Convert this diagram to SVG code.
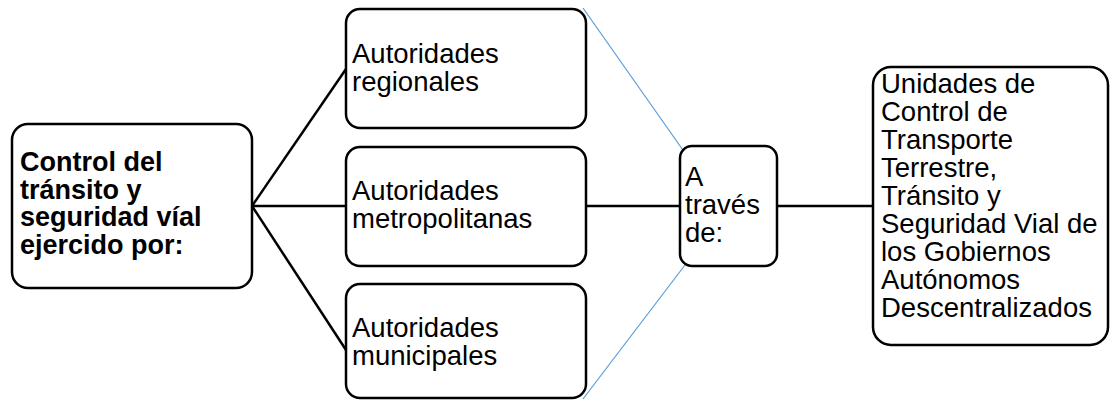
<svg xmlns="http://www.w3.org/2000/svg" width="1112" height="400" viewBox="0 0 1112 400">
<style>
.box{fill:#fff;stroke:#000;stroke-width:2.5}
.t{font-family:"Liberation Sans",Arial,sans-serif;font-size:27.5px;fill:#000}
.b{font-weight:bold;font-size:27px}
.c{stroke:#000;stroke-width:2.5;fill:none}
.bl{stroke:#5B9BD5;stroke-width:1.2;fill:none}
</style>
<rect width="1112" height="400" fill="#fff"/>
<g id="connectors">
<line class="c" x1="252" y1="206" x2="346" y2="69"/>
<line class="c" x1="252" y1="206" x2="346" y2="206"/>
<line class="c" x1="252" y1="206" x2="346" y2="350"/>
<line class="c" x1="586" y1="206" x2="680" y2="206"/>
<line class="c" x1="777" y1="206" x2="873" y2="206"/>
<line class="bl" x1="583" y1="8" x2="685" y2="153"/>
<line class="bl" x1="685" y1="265" x2="583" y2="399"/>
</g>
<g id="n-control">
<rect class="box" x="12" y="124" width="240" height="164" rx="16"/>
<text class="t b" x="20"><tspan x="20" y="171">Control del</tspan><tspan x="20" y="198.5">tránsito y</tspan><tspan x="20" y="226">seguridad víal</tspan><tspan x="20" y="253.5">ejercido por:</tspan></text>
</g>
<g id="n-regionales">
<rect class="box" x="346" y="9" width="240" height="119" rx="14"/>
<text class="t"><tspan x="352" y="63">Autoridades</tspan><tspan x="352" y="91">regionales</tspan></text>
</g>
<g id="n-metropolitanas">
<rect class="box" x="346" y="147" width="240" height="119" rx="14"/>
<text class="t"><tspan x="352" y="200">Autoridades</tspan><tspan x="352" y="228">metropolitanas</tspan></text>
</g>
<g id="n-municipales">
<rect class="box" x="346" y="284" width="240" height="114" rx="14"/>
<text class="t"><tspan x="352" y="337">Autoridades</tspan><tspan x="352" y="365">municipales</tspan></text>
</g>
<g id="n-traves">
<rect class="box" x="680" y="146" width="97" height="120" rx="12"/>
<text class="t"><tspan x="685" y="186">A</tspan><tspan x="685" y="214">través</tspan><tspan x="685" y="242">de:</tspan></text>
</g>
<g id="n-unidades">
<rect class="box" x="873" y="67" width="235" height="278" rx="18"/>
<text class="t"><tspan x="881" y="93">Unidades de</tspan><tspan x="881" y="121">Control de</tspan><tspan x="881" y="149">Transporte</tspan><tspan x="881" y="177">Terrestre,</tspan><tspan x="881" y="205">Tránsito y</tspan><tspan x="881" y="233">Seguridad Vial de</tspan><tspan x="881" y="261">los Gobiernos</tspan><tspan x="881" y="289">Autónomos</tspan><tspan x="881" y="317">Descentralizados</tspan></text>
</g>
</svg>
